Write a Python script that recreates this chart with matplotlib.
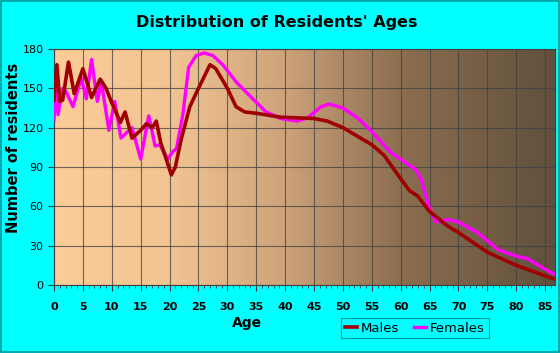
import numpy as np
import matplotlib
matplotlib.use("Agg")
import matplotlib.pyplot as plt
from matplotlib.colors import LinearSegmentedColormap
from matplotlib.patches import Rectangle

male_age = [0, 0.5, 1, 1.5, 2.5, 3.5, 5, 6.5, 8, 9, 10, 11.5, 12.3, 13.5, 15, 16, 17, 17.7, 18.5,
            19.5, 20.3, 21, 22, 23.5, 25, 27, 28, 30, 31.5, 33, 35, 39.2, 45, 47.3, 50, 55, 57.1,
            60, 61.5, 62.9, 65, 68.1, 70, 75, 80, 85, 86.7]
male_val = [141, 168, 140, 141, 170, 146, 165, 143, 157, 150, 139, 124, 132, 112, 118, 123, 120, 125, 108,
            95, 84, 90, 111, 136, 150, 168, 165, 150, 136, 132, 131, 128, 127, 125, 120, 107, 99,
            81, 72, 68, 56, 45, 40, 25, 15, 7, 4.5]

female_age = [0, 0.3, 0.7, 1.5, 2, 3.3, 4.7, 5.6, 6.5, 7.5, 8.2, 9.5, 10.5, 11.6, 13, 13.5, 15, 16.4,
              17.5, 18.3, 19.7, 20.6, 21.2, 22.3, 23.3, 24.6, 26, 27.5, 29.2, 31.5, 34.4, 36.7, 39.2,
              42.1, 43.9, 46.2, 47.6, 50, 52.5, 55, 58.3, 60, 62.6, 63.5, 65, 66.1, 68.1, 70, 73.3,
              76.8, 80, 82, 85, 86.7]
female_val = [126, 150, 130, 150, 148, 136, 158, 142, 172, 140, 155, 118, 140, 112, 118, 120, 96, 129,
              106, 107, 96, 102, 104, 130, 166, 175, 177, 175, 168, 155, 142, 132, 127,
              125, 127.5, 136, 138, 135, 127.5, 117, 101, 96, 88, 81, 58, 48, 50, 48, 40,
              27, 22, 20, 12, 8]

x_ticks = list(range(0, 90, 5))
y_ticks = [0, 30, 60, 90, 120, 150, 180]

W, H = 560, 353
fig = plt.figure(figsize=(W / 100, H / 100), dpi=100)
fig.patch.set_facecolor("#00FFFF")
fig.patches.append(Rectangle((0.001, 0.002), 0.997, 0.995, transform=fig.transFigure,
                             fill=False, edgecolor="#009999", linewidth=1.2))

ax = fig.add_axes([54 / W, 1 - 285 / H, (555 - 54) / W, (285 - 49) / H])
xmax = 86.7
cmap = LinearSegmentedColormap.from_list("bg", [
    (0.0, (252/255, 204/255, 153/255)),
    (0.23, (242/255, 196/255, 146/255)),
    (0.46, (205/255, 163/255, 122/255)),
    (0.69, (140/255, 110/255, 80/255)),
    (1.0, (96/255, 80/255, 60/255)),
])
grad = np.linspace(0, 1, 256).reshape(1, -1)
ax.imshow(grad, extent=[0, xmax, 0, 180], aspect="auto", cmap=cmap, zorder=0)

ax.set_xlim(0, xmax)
ax.set_ylim(0, 180)
ax.grid(True, color="#404040", linewidth=0.8, alpha=0.75, zorder=1)
ax.set_axisbelow(False)

ax.plot(female_age, female_val, color="#FF00FF", linewidth=2.4, label="Females", zorder=3,
        solid_joinstyle="round")
ax.plot(male_age, male_val, color="#A00000", linewidth=2.6, label="Males", zorder=4,
        solid_joinstyle="round")

ax.set_xticks(x_ticks)
ax.set_xticks(range(0, 87), minor=True)
ax.set_yticks(y_ticks)
ax.tick_params(axis="x", which="major", length=4, color="#404040", labelsize=8, pad=8)
ax.tick_params(axis="x", which="minor", length=2.5, color="#404040")
ax.tick_params(axis="y", length=4, color="#404040", labelsize=8)
for lab in ax.get_xticklabels():
    lab.set_fontweight("bold")
for sp in ax.spines.values():
    sp.set_color("#404040")
    sp.set_linewidth(0.8)

fig.text(0.494, 1 - 22 / H, "Distribution of Residents' Ages", ha="center", va="center",
         fontsize=11.5, fontweight="bold")
fig.text(247 / W, 1 - 323 / H, "Age", ha="center", va="center", fontsize=10, fontweight="bold")
fig.text(14 / W, 1 - 148 / H, "Number of residents", ha="center", va="center", rotation=90,
         fontsize=10.5, fontweight="bold")

h, l = ax.get_legend_handles_labels()
leg = fig.legend([h[1], h[0]], [l[1], l[0]], loc="center", ncol=2,
                 bbox_to_anchor=(415 / W, 1 - 328 / H), frameon=True, fancybox=False,
                 fontsize=9.5, handlelength=0.9, handletextpad=0.3, columnspacing=1.1,
                 borderpad=0.3)
leg.get_frame().set_facecolor("#00FFFF")
leg.get_frame().set_edgecolor("#008080")
leg.get_frame().set_linewidth(0.8)

fig.savefig("out.png", dpi=100, facecolor=fig.get_facecolor())
